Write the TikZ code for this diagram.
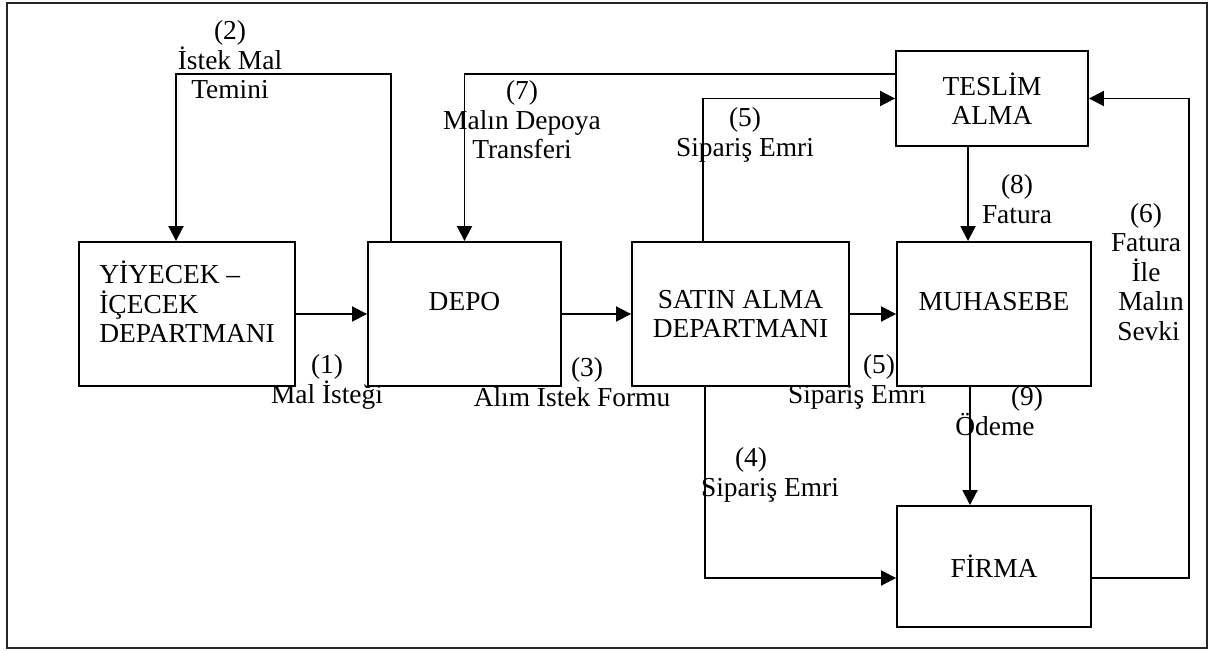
\documentclass[tikz,border=0pt]{standalone}
\usepackage{fontspec}
\setmainfont{Liberation Serif}
\usetikzlibrary{arrows.meta,positioning}

\begin{document}
\begin{tikzpicture}[x=0.02cm, y=-0.02cm, >={Triangle[length=0.3cm,width=0.3cm]},
    every node/.style={inner sep=0pt, font=\fontsize{15.6}{16.8}\selectfont},
    box/.style={draw, fill=white, line width=1.1pt, align=center},
    lbl/.style={align=center},
    conn/.style={line width=1.1pt}]
  \useasboundingbox (0,0) rectangle (1216,651);
  \draw[line width=1.4pt, black!85] (7,3) rectangle (1207,648);
  % flow labels (under the boxes)
  \node[lbl] (l2) at (230,60) {(2)\\İstek Mal\\Temini};
  \node[lbl] (l7) at (522,120) {(7)\\Malın Depoya\\Transferi};
  \node[lbl] (l5a) at (745,135) {(5)\\Sipariş Emri};
  \node[lbl] (l8) at (1017,199) {(8)\\Fatura};
  \node[lbl] (l6) at (1146,272) {(6)\\Fatura\\İle\hspace*{0.2cm}\\\hspace*{0.2cm}Malın\\\hspace*{0.1cm}Sevki};
  \node[lbl] (l1) at (327,382) {(1)\\Mal İsteği};
  \node[lbl] (l3) at (572,382) {\hspace*{0.6cm}(3)\\Alım İstek Formu};
  \node[lbl] (l5b) at (857,382) {\hspace*{0.88cm}(5)\\Sipariş Emri};
  \node[lbl] (l9) at (995,411) {\hspace*{1.28cm}(9)\\Ödeme};
  \node[lbl] (l4) at (770,475) {(4)\hspace*{0.76cm}\\Sipariş Emri};
  % departments
  \node[box, minimum width=4.32cm, minimum height=2.88cm] (yiy) at (187,314) {};
  \node[box, minimum width=3.86cm, minimum height=2.88cm] (depo) at (464.5,314) {};
  \node[box, minimum width=4.34cm, minimum height=2.88cm] (sat) at (740.5,314) {SATIN ALMA\\DEPARTMANI};
  \node[box, minimum width=3.88cm, minimum height=2.88cm] (muh) at (994,314) {};
  \node[box, minimum width=3.84cm, minimum height=1.90cm] (tes) at (992,98.5) {TESLİM\\ALMA};
  \node[box, minimum width=3.88cm, minimum height=2.42cm] (fir) at (994,566.5) {FİRMA};
  \node[anchor=west, align=left] (yiyt) at (99,302) {YİYECEK –\\İÇECEK\\DEPARTMANI};
  \node (depot) at (464.5,302) {DEPO};
  \node (muht) at (994,302) {MUHASEBE};
  % connectors
  \draw[conn,->] (yiy.east) -- (depo.west);
  \draw[conn,->] (depo.east) -- (sat.west);
  \draw[conn,->] (sat.east) -- (muh.west);
  \coordinate (c2) at (176,74);
  \draw[conn,->] ([xshift=0.48cm]depo.north west) |- (c2) -- (c2 |- yiy.north);
  \draw[conn,->] ([yshift=0.49cm]tes.west) -| (depo.north);
  \draw[conn,->] ([xshift=-0.75cm]sat.north) |- (tes.west);
  \draw[conn,->] ([xshift=-0.71cm]sat.south) |- ([yshift=-0.23cm]fir.west);
  \draw[conn,->] ([yshift=-0.23cm]fir.east) -- ++(97,0) |- (tes.east);
  \draw[conn,->] ([xshift=-0.48cm]tes.south) coordinate (t8) -- (t8 |- muh.north);
  \draw[conn,->] ([xshift=-0.48cm]muh.south) coordinate (m9) -- (m9 |- fir.north);
\end{tikzpicture}
\end{document}
